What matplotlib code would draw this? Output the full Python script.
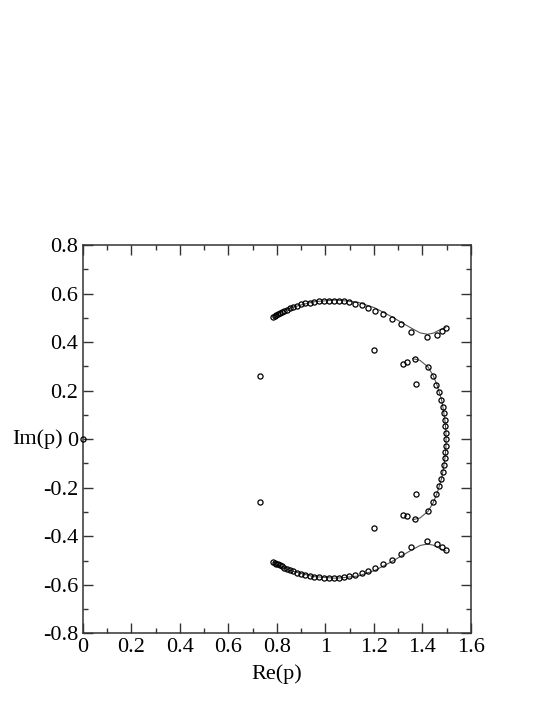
import matplotlib
matplotlib.use('Agg')

import matplotlib.pyplot as plt
from matplotlib.ticker import MultipleLocator, FormatStrFormatter

# upper arc of poles (lower arc is its complex conjugate)
arc_re = [0.784, 0.791, 0.798, 0.805, 0.812, 0.821, 0.831, 0.842, 0.854, 0.868,
          0.883, 0.900, 0.917, 0.936, 0.955, 0.974, 0.995, 1.015, 1.036, 1.057,
          1.077, 1.098, 1.123, 1.150, 1.176, 1.205, 1.237, 1.274, 1.311, 1.352,
          1.421, 1.460, 1.480, 1.498]
arc_im = [0.505, 0.509, 0.513, 0.516, 0.520, 0.524, 0.529, 0.534, 0.539, 0.545,
          0.550, 0.555, 0.559, 0.563, 0.566, 0.569, 0.570, 0.571, 0.571, 0.570,
          0.568, 0.564, 0.558, 0.551, 0.542, 0.530, 0.516, 0.496, 0.473, 0.443,
          0.419, 0.431, 0.446, 0.456]

# right arc
right_re = [1.322, 1.336, 1.369, 1.423, 1.445, 1.458, 1.469, 1.478, 1.484, 1.489,
            1.493, 1.495, 1.497, 1.497, 1.497, 1.495, 1.493, 1.489, 1.484, 1.478,
            1.469, 1.458, 1.445, 1.423, 1.369, 1.336, 1.322]
right_im = [0.311, 0.318, 0.330, 0.296, 0.259, 0.225, 0.193, 0.163, 0.134, 0.107,
            0.079, 0.053, 0.027, 0.0, -0.027, -0.053, -0.079, -0.107, -0.134, -0.163,
            -0.193, -0.225, -0.259, -0.296, -0.330, -0.318, -0.311]

# isolated poles
iso_re = [0.0, 0.730, 0.730, 1.200, 1.200, 1.373, 1.373]
iso_im = [0.0, 0.259, -0.259, 0.368, -0.368, 0.226, -0.226]

# thin curves
line_up_re = [0.785, 0.850, 0.950, 1.040, 1.070, 1.135, 1.204, 1.275, 1.312, 1.352,
              1.391, 1.422, 1.446, 1.473, 1.497]
line_up_im = [0.507, 0.540, 0.566, 0.573, 0.571, 0.564, 0.541, 0.504, 0.482, 0.459,
              0.438, 0.432, 0.437, 0.451, 0.460]
line_right_re = [1.360, 1.390, 1.423, 1.445, 1.460, 1.471, 1.480, 1.487, 1.493, 1.497,
                 1.498, 1.497, 1.493, 1.487, 1.480, 1.471, 1.460, 1.445, 1.423, 1.390,
                 1.360]
line_right_im = [0.332, 0.325, 0.298, 0.262, 0.225, 0.190, 0.160, 0.120, 0.080, 0.040,
                 0.0, -0.040, -0.080, -0.120, -0.160, -0.190, -0.225, -0.262, -0.298,
                 -0.325, -0.332]

plt.rcParams['font.family'] = ['Liberation Serif', 'DejaVu Serif']
plt.rcParams['font.size'] = 16
plt.rcParams['axes.unicode_minus'] = False

fig = plt.figure(figsize=(5.54, 7.17), dpi=100)
ax = fig.add_axes([0.1498, 0.1167, 0.7, 0.5416])

line_kw = dict(color='#555555', lw=0.8, zorder=1)
ax.plot(line_up_re, line_up_im, **line_kw)
ax.plot(line_up_re, [-v for v in line_up_im], **line_kw)
ax.plot(line_right_re, line_right_im, **line_kw)

mk = dict(ls='none', marker='o', ms=3.7, mfc='none', mec='black', mew=0.9,
          zorder=3, clip_on=False)
ax.plot(arc_re, arc_im, **mk)
ax.plot(arc_re, [-v for v in arc_im], **mk)
ax.plot(right_re, right_im, **mk)
ax.plot(iso_re, iso_im, **mk)

ax.set_xlim(0, 1.6)
ax.set_ylim(-0.8, 0.8)
ax.xaxis.set_major_locator(MultipleLocator(0.2))
ax.xaxis.set_minor_locator(MultipleLocator(0.1))
ax.yaxis.set_major_locator(MultipleLocator(0.2))
ax.yaxis.set_minor_locator(MultipleLocator(0.1))
ax.xaxis.set_major_formatter(FormatStrFormatter('%g'))
ax.yaxis.set_major_formatter(FormatStrFormatter('%g'))
ax.tick_params(which='both', direction='in', top=True, right=True,
               color='#333333', width=1.0)
ax.tick_params(which='major', length=7.5, pad=3.5)
ax.tick_params(which='minor', length=3.8)
for sp in ax.spines.values():
    sp.set_color('#333333')
    sp.set_linewidth(1.1)

ax.set_xlabel('Re(p)', labelpad=5)
ax.set_ylabel('Im(p)', rotation=0, ha='right', va='center')
ax.yaxis.set_label_coords(-0.052, 0.5)

fig.savefig('out.png', dpi=100)
